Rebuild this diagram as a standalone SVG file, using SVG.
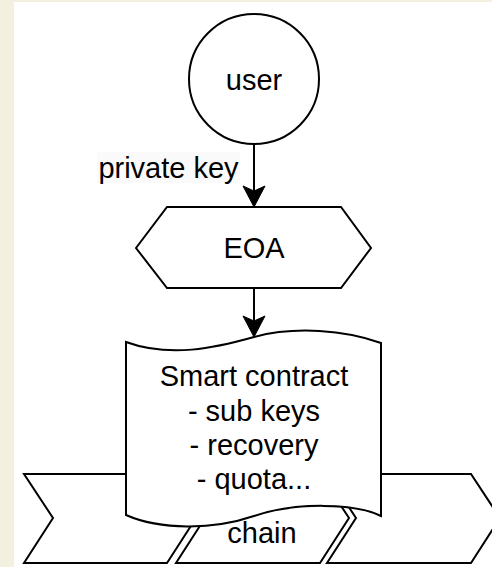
<svg xmlns="http://www.w3.org/2000/svg" width="492" height="567" viewBox="0 0 492 567">
  <style>
    .shape { fill: #ffffff; stroke: #000000; stroke-width: 2; stroke-linejoin: miter; }
    .edge { fill: none; stroke: #000000; stroke-width: 2; }
    .head { fill: #000000; stroke: #000000; stroke-width: 1; }
    .label { font-family: "Liberation Sans", Arial, sans-serif; font-size: 29px; fill: #000000; text-anchor: middle; }
  </style>
  <rect x="0" y="0" width="492" height="567" fill="#f3f0e0"/>
  <rect x="14" y="2" width="478" height="565" fill="#ffffff"/>

  <g id="chain">
    <path class="shape" d="M24,474 L167,474 L196,518 L167,563 L24,563 L53,518 Z"/>
    <path class="shape" d="M176,474 L320,474 L349,518 L320,563 L176,563 L205,518 Z"/>
    <path class="shape" d="M327,474 L471,474 L500,518 L471,563 L327,563 L356,518 Z"/>
    <text class="label" x="262" y="543">chain</text>
  </g>

  <g id="user">
    <circle class="shape" cx="254" cy="79" r="65"/>
    <text class="label" x="254" y="90">user</text>
  </g>

  <g id="eoa">
    <path class="shape" d="M136,248 L167,207 L341,207 L371,248 L341,288 L167,288 Z"/>
    <text class="label" x="254" y="258">EOA</text>
  </g>

  <g id="smart-contract">
    <path class="shape" d="M126,342 C170,358 215,348 254,337 C295,326 345,330 381,343 L381,516 C355,503 295,502 254,516 C213,530 160,530 126,515 Z"/>
    <text class="label" x="254" y="386">Smart contract</text>
    <text class="label" x="254" y="421">- sub keys</text>
    <text class="label" x="254" y="455">- recovery</text>
    <text class="label" x="254" y="489">- quota...</text>
  </g>

  <g id="connectors">
    <line class="edge" x1="254" y1="144" x2="254" y2="195"/>
    <path class="head" d="M254,207 L243,186 L254,191 L265,186 Z"/>
    <rect x="97" y="152" width="143" height="31" fill="#fafafa"/>
    <text class="label" x="168.5" y="178">private key</text>
    <line class="edge" x1="254" y1="288" x2="254" y2="325"/>
    <path class="head" d="M254,337 L243,316 L254,321 L265,316 Z"/>
  </g>
</svg>
